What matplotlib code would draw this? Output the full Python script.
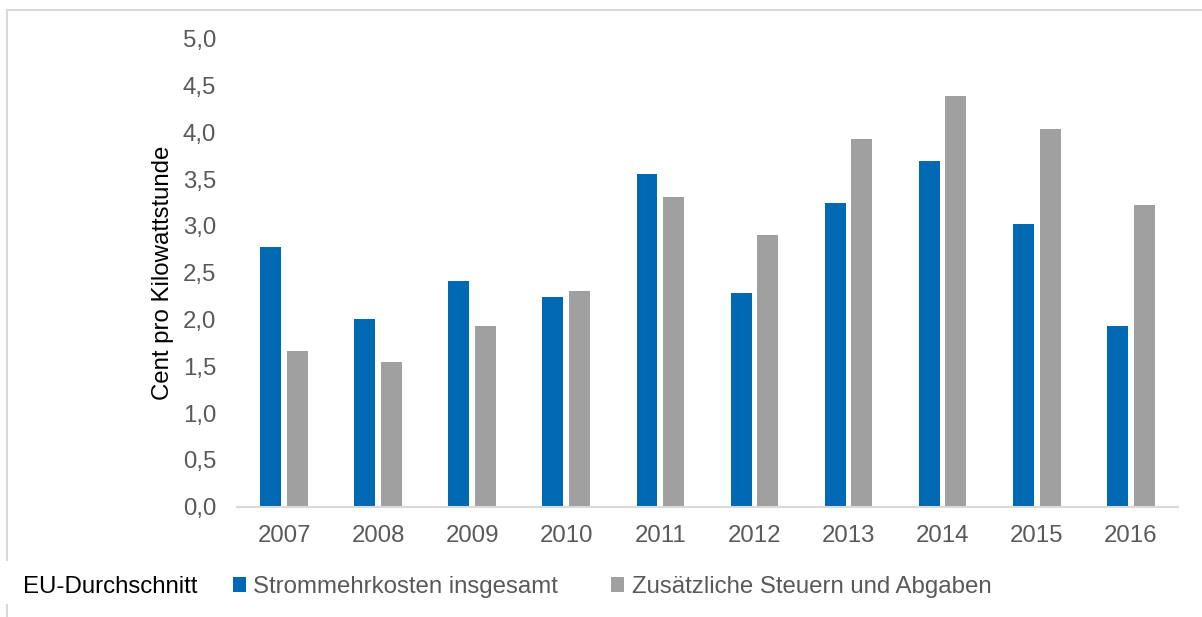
import matplotlib
matplotlib.use("Agg")
import matplotlib.pyplot as plt
import numpy as np
from matplotlib.lines import Line2D

plt.rcParams['font.family'] = ['Liberation Sans', 'DejaVu Sans']

years = ['2007', '2008', '2009', '2010', '2011', '2012', '2013', '2014', '2015', '2016']
strommehrkosten = [2.77, 2.00, 2.41, 2.24, 3.55, 2.28, 3.24, 3.69, 3.02, 1.93]
steuern_abgaben = [1.66, 1.55, 1.93, 2.30, 3.31, 2.90, 3.93, 4.39, 4.03, 3.22]
yticks = [0.0, 0.5, 1.0, 1.5, 2.0, 2.5, 3.0, 3.5, 4.0, 4.5, 5.0]

blue = '#0069B4'
grey = '#A0A0A0'
text_grey = '#595959'
frame = '#D9D9D9'
fs = 17.3

fig = plt.figure(figsize=(12.02, 6.17), dpi=100)
ax = fig.add_axes([237 / 1202, 1 - 506.7 / 617, (1177.8 - 237) / 1202, (506.7 - 38.7) / 617])

x = np.arange(len(years))
w = 0.223
b1 = ax.bar(x - 0.142, strommehrkosten, w, color=blue, label='Strommehrkosten insgesamt')
b2 = ax.bar(x + 0.142, steuern_abgaben, w, color=grey, label='Zusätzliche Steuern und Abgaben')

ax.set_xlim(-0.5, len(years) - 0.5)
ax.set_ylim(0, 5.0)
ax.set_yticks(yticks)
ax.set_yticklabels([f'{v:.1f}'.replace('.', ',') for v in yticks])
ax.set_xticks(x)
ax.set_xticklabels(years)
ax.tick_params(length=0, labelsize=fs, colors=text_grey)
ax.tick_params(axis='y', pad=15)
ax.tick_params(axis='x', pad=13)

for s in ['top', 'right', 'left']:
    ax.spines[s].set_visible(False)
ax.spines['bottom'].set_color(frame)
ax.spines['bottom'].set_linewidth(1.5)

ax.set_ylabel('Cent pro Kilowattstunde', fontsize=fs, color='black', labelpad=6)

fig.text(23 / 1202, 1 - 587 / 617, 'EU-Durchschnitt', fontsize=fs, color='black',
         va='center', ha='left')
leg = fig.legend(handles=[b1, b2], loc='center left', bbox_to_anchor=(233 / 1202, 1 - 587 / 617),
                 ncol=2, frameon=False, fontsize=fs, handlelength=0.55, handleheight=0.55,
                 handletextpad=0.3, columnspacing=2.2, borderpad=0, borderaxespad=0)
for t in leg.get_texts():
    t.set_color(text_grey)

# light frame around chart area
fig.add_artist(Line2D([7 / 1202, 1], [1 - 10 / 617, 1 - 10 / 617], transform=fig.transFigure,
                      color=frame, lw=1.5))
fig.add_artist(Line2D([7 / 1202, 7 / 1202], [1 - 10 / 617, 1 - 560 / 617], transform=fig.transFigure,
                      color=frame, lw=1.5))
fig.add_artist(Line2D([7 / 1202, 7 / 1202], [1 - 605 / 617, 0], transform=fig.transFigure,
                      color=frame, lw=1.5))

fig.savefig('out.png', dpi=100)
